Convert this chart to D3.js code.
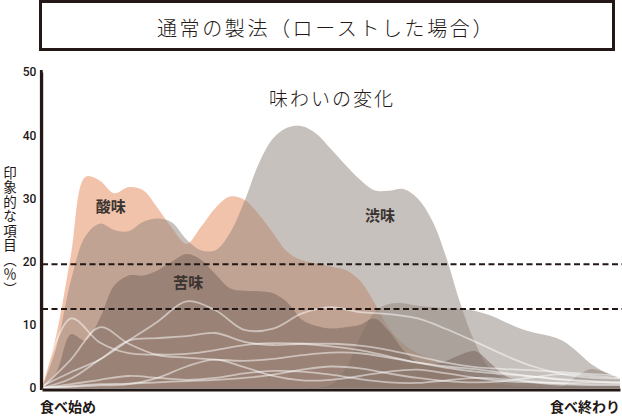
<!DOCTYPE html>
<html><head><meta charset="utf-8">
<script src="https://cdn.jsdelivr.net/npm/d3@7"></script>
<style>html,body{margin:0;padding:0;background:#fff;} svg{display:block}</style>
</head><body>
<svg id="chart" width="622" height="416"></svg>
<script>
// ---------- data ----------
const title = "通常の製法（ローストした場合）";
const subtitle = "味わいの変化";
const yAxisTitle = "印象的な項目（％）";
const xStartLabel = "食べ始め";
const xEndLabel = "食べ終わり";
const yTicks = [0, 10, 20, 30, 40, 50];
const thresholds = [19.6, 12.5];

// area series sampled on a 2.5% grid of the eating time (0 = start, 100 = end)
const areaPositions = [0,2.5,5,7.5,10,12.5,15,17.5,20,22.5,25,27.5,30,32.5,35,37.5,40,42.5,45,47.5,50,
  52.5,55,57.5,60,62.5,65,67.5,70,72.5,75,77.5,80,82.5,85,87.5,90,92.5,95,97.5,100];
const sourness = [0,8.5,21,33.4,32.8,30.8,31.8,31.3,28.5,25.3,22.8,25.5,28.5,30.3,29.8,27.5,24.5,21.5,20.2,19.7,19.2,
  18.7,17,13.5,9.5,7,5.5,4.5,3.5,2.5,1.6,1,0.5,0.3,0.2,0.1,0,0,0,0,0];
const astringency = [0,6.5,17,24,26,25,24.8,26.3,26.8,26.2,23.5,21.8,21.8,24.5,29.5,35.5,39.5,41.2,41.4,40.2,37.8,
  35.3,33,31.3,31.2,31.5,30,26.5,20.5,13,7,3,1.5,1,0.7,0.5,0.3,0.2,0.2,0.1,0.1];
const bitterness = [0,2.5,8.5,7.5,11,16.2,17.8,17.8,18.6,20,21.2,20.3,18,15.8,15.4,15.3,15,13.5,10.8,9.8,9.4,
  9.6,10,11,9,6,4,3.7,4.3,5.3,5.8,4,2,1.2,0.8,0.5,0.4,0.3,0.3,0.3,0.3];
const otherGray1 = [0,0,0,0,0,0,0,0,0,0,0,0,0,0,0,0,0,0,0,0,0.5,
  3,8,12,13.3,13.4,13,12.8,12.6,12.5,12.2,11.5,10.5,9.5,8.8,8.3,7.5,5.8,3.8,2.5,1.6];
const otherGray2 = [0,0,0,0,0,0,0,0,0,0,0,0,0,0,0,0,0,0,0,0,0,
  0,0,0,0,0,0,0,0,0,0,0,0,0,0,0,0.2,1.8,3.0,2.4,1.3];

// other taste items (thin lines) sampled on a 5% grid
const linePositions = [0,5,10,15,20,25,30,35,40,45,50,55,60,65,70,75,80,85,90,95,100];
const lineA = [0.5,11,7.2,5.5,5.3,5.4,6,6.8,7.1,7,6.6,6,5,4,3.2,2.6,2.2,1.8,1.4,1.1,1];
const lineB = [0,4.5,9.6,7,5.2,4.8,4.5,4.3,4.6,5.2,5.6,5.5,4.8,4,3.4,3,2.4,1.8,1.3,1,0.8];
const lineC = [0.3,2.5,4.5,7.5,10.5,13.7,12.3,9.2,9.4,11.8,12.8,12,11.7,11,9.3,7.3,5.2,3.4,2.2,1.6,1.5];
const lineD = [0,1.5,4.5,7.5,7.9,8.2,8.7,7.3,6.8,7,7,6.7,6,5,4,3.3,3,2.8,2.5,2.2,2];
const lineE = [0,0.2,0.4,0.6,1.6,3.4,4.5,3.3,1.9,1.2,1.3,1.9,2.6,2.9,2.3,1.6,1.1,0.9,0.8,0.8,0.8];
const lineF = [0,0.6,1.3,1.9,1.6,1.3,1.6,2.3,2.7,2.6,2.1,1.4,0.9,0.8,1.2,1.6,1.4,1,0.7,0.5,0.5];
const lineG = [0,0.3,0.6,0.7,0.9,1.1,1.3,1.6,2.1,2.9,3.4,3.1,2.3,1.6,1.1,0.9,1.1,1.7,2.2,1.9,1.6];

const areaLabels = [
  {name: "酸味", t: 11.9, v: 28.8},
  {name: "苦味", t: 25.3, v: 16.8},
  {name: "渋味", t: 58.5, v: 27.5}
];

// ---------- drawing ----------
const svg = d3.select("#chart");
const ink = "#231815";
const jp = "'Noto Sans CJK JP', 'Noto Sans', sans-serif";

const x = d3.scaleLinear().domain([0, 100]).range([42, 620]);
const y = d3.scaleLinear().domain([0, 50]).range([388, 72]);
const clampY = v => y(Math.max(0, v));

// title box
svg.append("rect").attr("x", 40.5).attr("y", 1.5).attr("width", 573).attr("height", 48)
  .attr("fill", "none").attr("stroke", ink).attr("stroke-width", 3);
svg.append("text").attr("x", 326).attr("y", 27).attr("text-anchor", "middle")
  .attr("dominant-baseline", "central").attr("font-family", jp).attr("font-weight", 300)
  .attr("font-size", 20).attr("letter-spacing", 2.6).attr("fill", ink).text(title);

const curve = d3.curveCatmullRom.alpha(0.5);
const area = d3.area().x((d, i) => x(areaPositions[i])).y0(y(0)).y1(d => clampY(d)).curve(curve);
const layers = [
  {data: sourness, fill: "#f2c3ab", op: 1},
  {data: astringency, fill: "#8f837b", op: 0.5},
  {data: otherGray1, fill: "#8f837b", op: 0.5},
  {data: otherGray2, fill: "#8f837b", op: 0.5},
  {data: bitterness, fill: "#75615a", op: 0.5}
];
svg.append("g").selectAll("path").data(layers).join("path")
  .attr("d", d => area(d.data)).attr("fill", d => d.fill).attr("fill-opacity", d => d.op);

const line = d3.line().x((d, i) => x(linePositions[i])).y(d => clampY(d)).curve(curve);
svg.append("g").selectAll("path").data([lineA, lineB, lineC, lineD, lineE, lineF, lineG]).join("path")
  .attr("d", d => line(d)).attr("fill", "none").attr("stroke", "#ffffff")
  .attr("stroke-opacity", 0.5).attr("stroke-width", 1.8);

// threshold dashed lines
svg.append("g").selectAll("line").data(thresholds).join("line")
  .attr("x1", x(0)).attr("x2", 622).attr("y1", d => y(d)).attr("y2", d => y(d))
  .attr("stroke", ink).attr("stroke-width", 2).attr("stroke-dasharray", "6,3.5");

// axes
const yAxis = svg.append("g").attr("transform", "translate(41.3,0)")
  .call(d3.axisLeft(y).tickValues(yTicks).tickSize(0).tickPadding(5).tickFormat(d3.format("d")));
yAxis.select(".domain").attr("stroke", ink).attr("stroke-width", 2.8);
yAxis.selectAll("text").attr("font-family", "Roboto, 'Liberation Sans', sans-serif")
  .attr("font-weight", 500).attr("font-size", 12).attr("fill", ink);
svg.append("line").attr("x1", 41.3).attr("x2", 41.3).attr("y1", 70).attr("y2", 390)
  .attr("stroke", ink).attr("stroke-width", 2.8);

const xAxis = svg.append("g").attr("transform", "translate(0,389.5)")
  .call(d3.axisBottom(x).tickValues([]).tickSizeOuter(0));
xAxis.select(".domain").attr("stroke", ink).attr("stroke-width", 3);

// axis labels
svg.append("text").attr("x", 40).attr("y", 406).attr("dominant-baseline", "central")
  .attr("font-family", jp).attr("font-weight", 700).attr("font-size", 14).attr("fill", ink).text(xStartLabel);
svg.append("text").attr("x", 620).attr("y", 406).attr("text-anchor", "end").attr("dominant-baseline", "central")
  .attr("font-family", jp).attr("font-weight", 700).attr("font-size", 14).attr("fill", ink).text(xEndLabel);

svg.append("text").attr("x", 10).attr("y", 166).style("writing-mode", "vertical-rl")
  .attr("font-family", jp).attr("font-size", 13.5).attr("letter-spacing", 1).attr("fill", ink).text(yAxisTitle);

svg.append("text").attr("x", 332).attr("y", 97).attr("text-anchor", "middle").attr("dominant-baseline", "central")
  .attr("font-family", jp).attr("font-weight", 300).attr("font-size", 19).attr("letter-spacing", 2)
  .attr("fill", ink).text(subtitle);

svg.append("g").selectAll("text").data(areaLabels).join("text")
  .attr("x", d => x(d.t)).attr("y", d => y(d.v)).attr("text-anchor", "middle").attr("dominant-baseline", "central")
  .attr("font-family", jp).attr("font-weight", 700).attr("font-size", 15).attr("fill", "#3a3330")
  .text(d => d.name);
</script>
</body></html>
